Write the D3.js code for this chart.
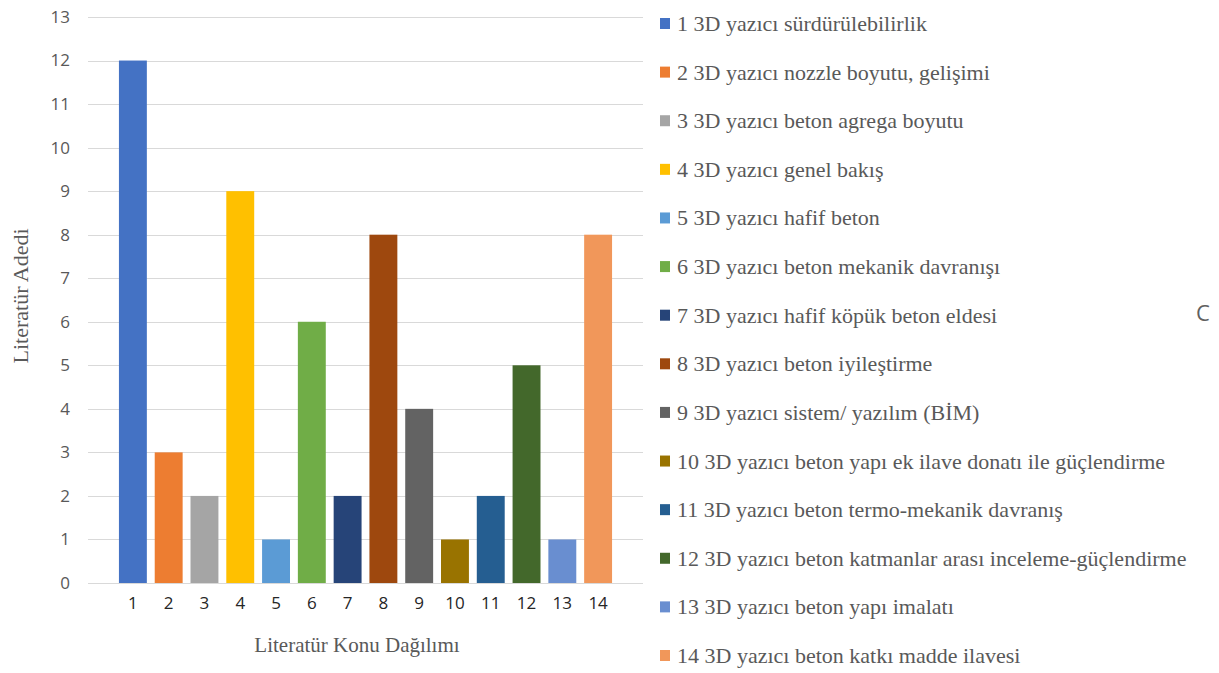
<!DOCTYPE html>
<html lang="tr">
<head>
<meta charset="utf-8">
<script src="https://cdn.jsdelivr.net/npm/d3@7"></script>
<style>
  html, body { margin: 0; padding: 0; background: #ffffff; }
  svg { display: block; }
</style>
</head>
<body>
<svg id="chart" width="1219" height="673"></svg>
<script>
// Topic numbers shown under the bars
const categories = ["1", "2", "3", "4", "5", "6", "7", "8", "9", "10", "11", "12", "13", "14"];

// Number of publications per topic
const counts = [12, 3, 2, 9, 1, 6, 2, 8, 4, 1, 2, 5, 1, 8];

// Legend entries, one per topic
const topicLabels = [
  "1 3D yazıcı sürdürülebilirlik",
  "2 3D yazıcı nozzle boyutu, gelişimi",
  "3 3D yazıcı beton agrega boyutu",
  "4 3D yazıcı genel bakış",
  "5 3D yazıcı hafif beton",
  "6 3D yazıcı beton mekanik davranışı",
  "7 3D yazıcı hafif köpük beton eldesi",
  "8 3D yazıcı beton iyileştirme",
  "9 3D yazıcı sistem/ yazılım (BİM)",
  "10 3D yazıcı beton yapı ek ilave donatı ile güçlendirme",
  "11 3D yazıcı beton termo-mekanik davranış",
  "12 3D yazıcı beton katmanlar arası inceleme-güçlendirme",
  "13 3D yazıcı beton yapı imalatı",
  "14 3D yazıcı beton katkı madde ilavesi"
];

// Bar / legend swatch colours
const colors = [
  "#4472C4", "#ED7D31", "#A5A5A5", "#FFC000", "#5B9BD5", "#70AD47", "#264478",
  "#9E480E", "#636363", "#997300", "#255E91", "#43682B", "#698ED0", "#F1975A"
];

// Y axis ticks
const yTicks = d3.range(0, 14);

const axisTitleY = "Literatür Adedi";
const axisTitleX = "Literatür Konu Dağılımı";

const serif = "'Liberation Serif', 'Times New Roman', serif";
const sans = "'Open Sans', 'Noto Sans', sans-serif";

const svg = d3.select("#chart");

const plot = { left: 88, right: 643, top: 17, bottom: 583 };

const x = d3.scaleBand()
  .domain(categories)
  .range([115, 616])
  .paddingInner(0.22)
  .paddingOuter(0.11);

const y = d3.scaleLinear()
  .domain([0, 13])
  .range([plot.bottom, plot.top]);

// Horizontal gridlines
svg.append("g")
  .selectAll("line")
  .data(yTicks)
  .join("line")
  .attr("x1", plot.left)
  .attr("x2", plot.right)
  .attr("y1", d => Math.round(y(d)) + 0.5)
  .attr("y2", d => Math.round(y(d)) + 0.5)
  .attr("stroke", "#d9d9d9")
  .attr("stroke-width", 1);

// Y axis labels
const yAxis = d3.axisLeft(y).tickValues(yTicks).tickSize(0).tickPadding(0);
const gy = svg.append("g")
  .attr("transform", "translate(70,0)")
  .call(yAxis);
gy.select(".domain").remove();
gy.selectAll("text")
  .attr("font-family", sans)
  .attr("font-size", 17)
  .attr("fill", "#595959");

// Bars
svg.append("g")
  .selectAll("rect")
  .data(counts)
  .join("rect")
  .attr("x", (d, i) => x(categories[i]))
  .attr("y", d => y(d))
  .attr("width", x.bandwidth())
  .attr("height", d => y(0) - y(d))
  .attr("fill", (d, i) => colors[i]);

// X axis labels
const xAxis = d3.axisBottom(x).tickSize(0).tickPadding(0);
const gx = svg.append("g")
  .attr("transform", "translate(0,597)")
  .call(xAxis);
gx.select(".domain").remove();
gx.selectAll("text")
  .attr("font-family", sans)
  .attr("font-size", 17)
  .attr("fill", "#262626");

// Axis titles
svg.append("text")
  .attr("transform", "translate(28,296) rotate(-90)")
  .attr("text-anchor", "middle")
  .attr("font-family", serif)
  .attr("font-size", 22)
  .attr("fill", "#595959")
  .text(axisTitleY);

svg.append("text")
  .attr("x", 357)
  .attr("y", 652)
  .attr("text-anchor", "middle")
  .attr("font-family", serif)
  .attr("font-size", 21)
  .attr("fill", "#595959")
  .text(axisTitleX);

// Legend
const legendY = d3.scalePoint()
  .domain(categories)
  .range([23, 655]);

const legend = svg.append("g")
  .selectAll("g")
  .data(topicLabels)
  .join("g")
  .attr("transform", (d, i) => `translate(660,${legendY(categories[i])})`);

legend.append("rect")
  .attr("x", 0)
  .attr("y", -5)
  .attr("width", 10)
  .attr("height", 11)
  .attr("fill", (d, i) => colors[i]);

legend.append("text")
  .attr("x", 17)
  .attr("y", 8)
  .attr("font-family", serif)
  .attr("font-size", 22)
  .attr("fill", "#595959")
  .text(d => d);

// Stray glyph at the right edge
svg.append("text")
  .attr("x", 1196)
  .attr("y", 321)
  .attr("font-family", sans)
  .attr("font-size", 22)
  .attr("fill", "#606060")
  .text("C");
</script>
</body>
</html>
